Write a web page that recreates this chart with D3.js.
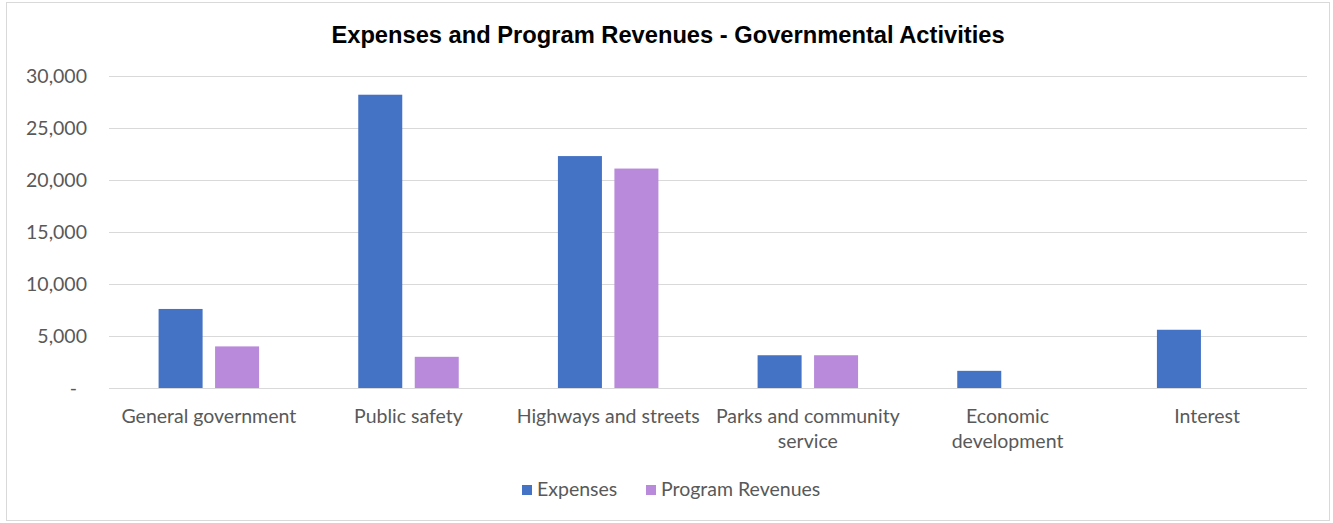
<!DOCTYPE html>
<html>
<head>
<meta charset="utf-8">
<script src="https://cdn.jsdelivr.net/npm/d3@7"></script>
<style>
  html, body { margin: 0; padding: 0; background: #ffffff; }
  svg { display: block; }
</style>
</head>
<body>
<svg id="chart" width="1333" height="523"></svg>
<script>
// Categories and series values (thousands of dollars)
const categories = [
  "General government",
  "Public safety",
  "Highways and streets",
  "Parks and community service",
  "Economic development",
  "Interest"
];
const categoryLines = [
  ["General government"],
  ["Public safety"],
  ["Highways and streets"],
  ["Parks and community", "service"],
  ["Economic", "development"],
  ["Interest"]
];
const seriesNames = ["Expenses", "Program Revenues"];
const expenses = [7600, 28200, 22300, 3150, 1650, 5600];
const programRevenues = [4000, 3000, 21100, 3150, 0, 0];
const yTicks = [0, 5000, 10000, 15000, 20000, 25000, 30000];
const colors = ["#4472C4", "#B98ADB"];
const title = "Expenses and Program Revenues - Governmental Activities";

const svg = d3.select("#chart");
const W = 1333, H = 523;
const plot = { left: 109, right: 1307, top: 76, bottom: 388 };
const labelFont = "Lato, 'Open Sans', sans-serif";
const labelSize = 19.5;

// Chart frame
svg.append("rect")
  .attr("x", 6.5).attr("y", 2.5)
  .attr("width", W - 10).attr("height", H - 5)
  .attr("fill", "#ffffff")
  .attr("stroke", "#d9d9d9").attr("stroke-width", 1);

// Title
svg.append("text")
  .attr("x", 668).attr("y", 43)
  .attr("text-anchor", "middle")
  .attr("font-family", "'Liberation Sans', Arial, sans-serif")
  .attr("font-weight", "bold")
  .attr("font-size", 23.7)
  .attr("fill", "#000000")
  .text(title);

// Scales
const x0 = d3.scaleBand().domain(categories).range([plot.left, plot.right]).padding(0);
const x1 = d3.scaleBand().domain(seriesNames).range([0, x0.bandwidth()])
  .paddingInner(0.221).paddingOuter(0.878);
const y = d3.scaleLinear().domain([0, 30000]).range([plot.bottom, plot.top]);

// Gridlines
svg.append("g").selectAll("line").data(yTicks).join("line")
  .attr("x1", plot.left).attr("x2", plot.right)
  .attr("y1", d => Math.round(y(d)) + 0.5).attr("y2", d => Math.round(y(d)) + 0.5)
  .attr("stroke", "#d9d9d9").attr("stroke-width", 1);

// Y axis labels (accounting style: zero shown as a dash)
const fmt = d3.format(",");
const yAxis = d3.axisLeft(y).tickValues(yTicks).tickSize(0).tickPadding(0)
  .tickFormat(d => d === 0 ? "-\u00a0\u00a0" : fmt(d));
const yg = svg.append("g").attr("transform", `translate(87,0)`).call(yAxis);
yg.select(".domain").remove();
yg.selectAll("text")
  .attr("font-family", labelFont).attr("font-size", labelSize)
  .attr("fill", "#595959");

// Bars
const rows = categories.map((c, i) => ({ category: c, values: [expenses[i], programRevenues[i]] }));
const groups = svg.append("g").selectAll("g").data(rows).join("g")
  .attr("transform", d => `translate(${x0(d.category)},0)`);
groups.selectAll("rect")
  .data(d => d.values.map((v, k) => ({ key: seriesNames[k], value: v, k })))
  .join("rect")
  .filter(d => d.value > 0)
  .attr("x", d => x1(d.key))
  .attr("y", d => y(d.value))
  .attr("width", x1.bandwidth())
  .attr("height", d => y(0) - y(d.value))
  .attr("fill", d => colors[d.k]);

// X axis labels
const xl = svg.append("g").selectAll("text").data(categories).join("text")
  .attr("x", d => x0(d) + x0.bandwidth() / 2)
  .attr("y", 423)
  .attr("text-anchor", "middle")
  .attr("font-family", labelFont).attr("font-size", labelSize)
  .attr("fill", "#595959");
xl.selectAll("tspan").data((d, i) => categoryLines[i]).join("tspan")
  .attr("x", function () { return d3.select(this.parentNode).attr("x"); })
  .attr("dy", (d, i) => i === 0 ? 0 : 25)
  .text(d => d);

// Legend
const legend = svg.append("g");
const legendItems = [
  { name: seriesNames[0], color: colors[0], x: 522 },
  { name: seriesNames[1], color: colors[1], x: 646 }
];
const li = legend.selectAll("g").data(legendItems).join("g")
  .attr("transform", d => `translate(${d.x},485)`);
li.append("rect").attr("width", 10).attr("height", 10).attr("fill", d => d.color);
li.append("text").attr("x", 15).attr("y", 11)
  .attr("font-family", labelFont).attr("font-size", labelSize)
  .attr("fill", "#595959")
  .text(d => d.name);
</script>
</body>
</html>
